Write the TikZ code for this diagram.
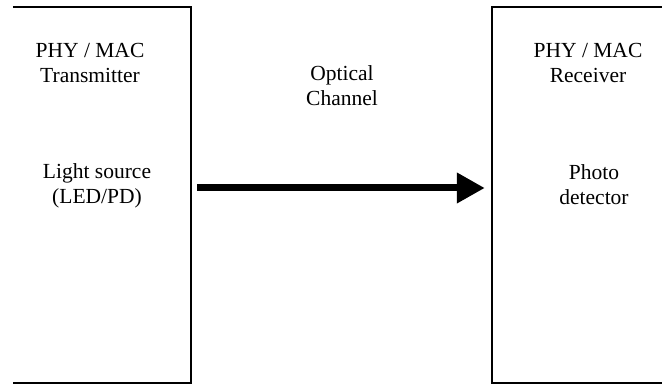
\documentclass[tikz,border=0pt]{standalone}
\usepackage{fontspec}
\setmainfont{Liberation Serif}
\usetikzlibrary{arrows.meta, positioning}

\begin{document}
\begin{tikzpicture}[x=1pt, y=1pt,
    block/.style={minimum height=376pt, inner sep=0pt},
    side/.style={line width=1.7pt},
    label/.style={align=center, inner sep=0pt, font=\fontsize{21.5}{25}\selectfont},
    beam/.style={line width=7pt, -{Triangle[length=28pt, width=29pt]}}]
    \useasboundingbox (0,0) rectangle (662,385);

    % Open blocks (three sides each)
    \node[block, minimum width=178pt] (tx) at (102,190) {};
    \node[block, minimum width=170pt] (rx) at (577,190) {};
    \draw[side] (tx.north west) -- (tx.north east) -- (tx.south east) -- (tx.south west);
    \draw[side] (rx.north east) -- (rx.north west) -- (rx.south west) -- (rx.south east);

    % Texts
    \node[label] (txname) at (90,322.5) {PHY / MAC\\Transmitter};
    \node[label] (txsrc) at (97,199) {Light source\\(LED/PD)};
    \node[label] (chan) at (342,299) {Optical\\Channel};
    \node[label] (rxname) at (588,322.5) {PHY / MAC\\Receiver};
    \node[label] (rxdet) at (594,200.5) {Photo\\detector};

    % Link
    \coordinate (beamy) at (0,197);
    \draw[beam, shorten <=6pt, shorten >=7pt] (tx.east |- beamy) -- (rx.west |- beamy);
\end{tikzpicture}
\end{document}
